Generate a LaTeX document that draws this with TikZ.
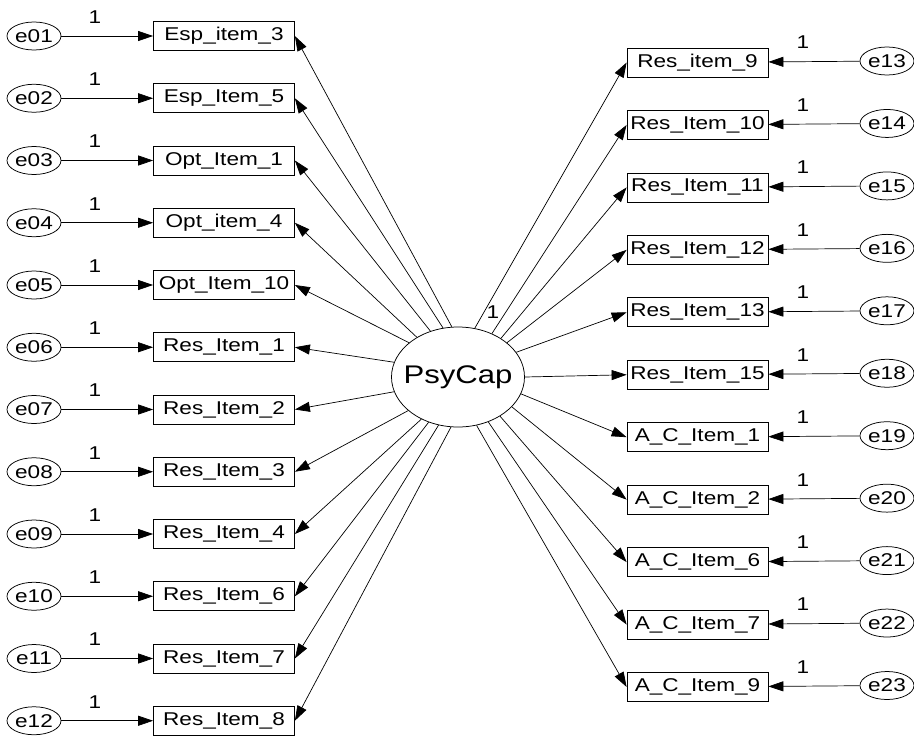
\documentclass[tikz,border=0pt]{standalone}
\usepackage{fontspec}
\setmainfont{Liberation Sans}[FakeStretch=1.22]
\usetikzlibrary{arrows.meta,shapes.geometric}
\begin{document}
\begin{tikzpicture}[x=1pt,y=-1pt,
  small/.style={font=\fontsize{18.5}{20}\selectfont},
  item/.style={draw,line width=0.75pt,minimum width=141pt,minimum height=29pt,inner sep=0pt,small},
  err/.style={draw,ellipse,line width=0.75pt,minimum width=54pt,minimum height=28pt,inner sep=0pt,small},
  latent/.style={draw,ellipse,line width=0.75pt,minimum width=133pt,minimum height=100pt,inner sep=0pt},
  reg/.style={-{Triangle[length=15pt,width=10pt]},line width=0.7pt},
  wt/.style={small,inner sep=0pt}]
\useasboundingbox (0,0) rectangle (914,737);

% latent factor: empty ellipse, its name set on top
\node[latent] (psy) at (458,377) {};
\node[font=\fontsize{25.5}{28}\selectfont,inner sep=0pt] (psylabel) at (psy.center) {PsyCap};

% left-hand indicators with their error terms (last field: where the loading leaves PsyCap)
\foreach \t/\e/\a [count=\i] in {Esp\_item\_3/e01/97, Esp\_Item\_5/e02/107, Opt\_Item\_1/e03/121,
    Opt\_item\_4/e04/136, Opt\_Item\_10/e05/145, Res\_Item\_1/e06/167, Res\_Item\_2/e07/193,
    Res\_Item\_3/e08/214, Res\_Item\_4/e09/229, Res\_Item\_6/e10/237, Res\_Item\_7/e11/248,
    Res\_Item\_8/e12/262}{
  \pgfmathsetmacro{\yy}{36+62.25*(\i-1)}
  \node[item] (L\i) at (224,\yy) {\t};
  \node[err] (eL\i) at (34,\yy) {\e};
  \node[wt] at (95,\yy-19) {1};
  \draw[reg] (eL\i) -- (L\i);
  \draw[reg] (psy.\a) -- (L\i.east);
}

% right-hand indicators with their error terms
\foreach \t/\e/\a [count=\i] in {Res\_item\_9/e13/71, Res\_Item\_10/e14/52, Res\_Item\_11/e15/42,
    Res\_Item\_12/e16/35, Res\_Item\_13/e17/23, Res\_Item\_15/e18/0, A\_C\_Item\_1/e19/-15.5,
    A\_C\_Item\_2/e20/-29, A\_C\_Item\_6/e21/-43.5, A\_C\_Item\_7/e22/-56, A\_C\_Item\_9/e23/-69}{
  \pgfmathsetmacro{\yy}{62.5+62.45*(\i-1)}
  \node[item] (R\i) at (697.5,\yy) {\t};
  \node[err] (eR\i) at (887,\yy-1.5) {\e};
  \node[wt] at (803,\yy-20) {1};
  \draw[reg] (eR\i) -- (R\i);
  \draw[reg] (psy.\a) -- (R\i.west);
}

% fixed loading
\node[wt] at (493,312) {1};
\end{tikzpicture}
\end{document}
